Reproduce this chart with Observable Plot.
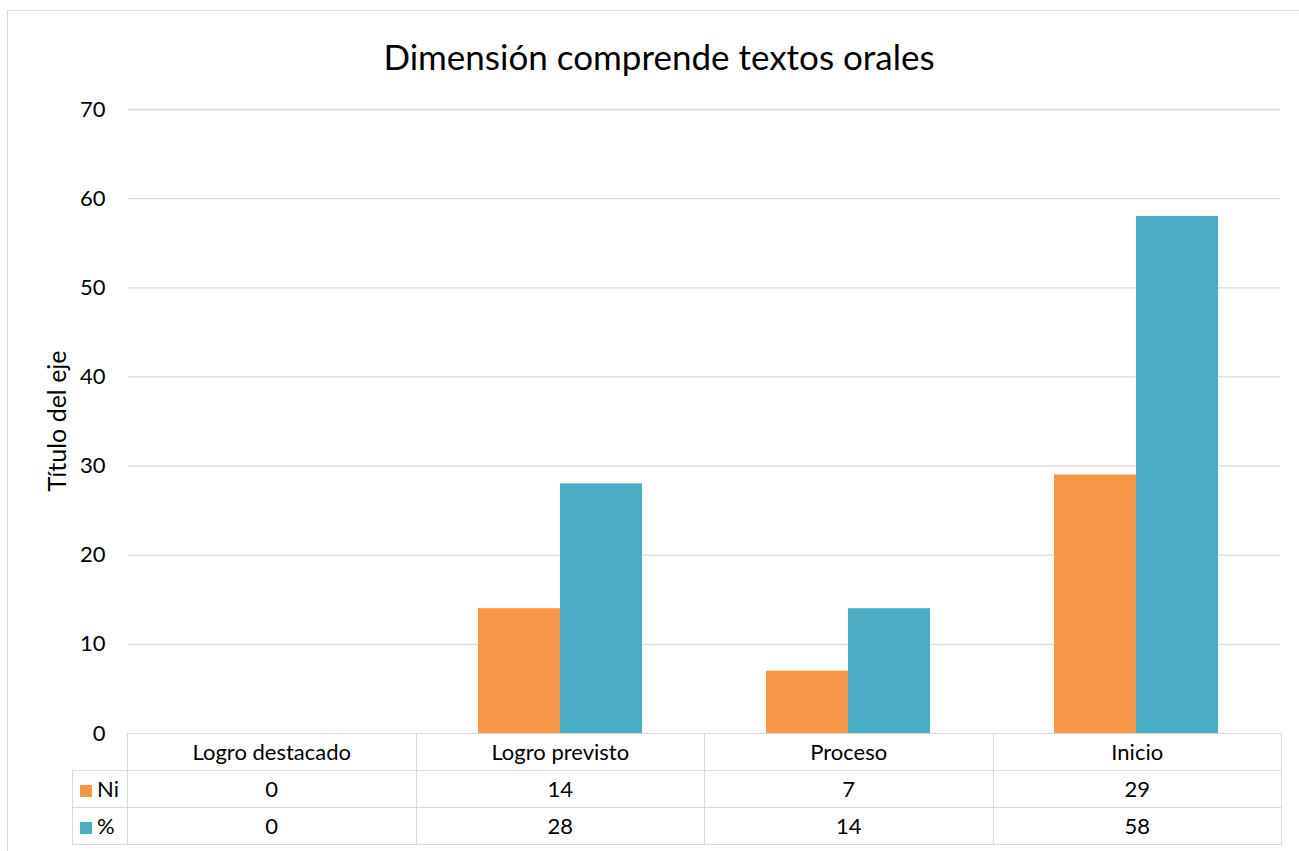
<!DOCTYPE html>
<html>
<head>
<meta charset="utf-8">
<script src="https://cdn.jsdelivr.net/npm/d3@7"></script>
<script src="https://cdn.jsdelivr.net/npm/@observablehq/plot@0.6"></script>
<style>
  html, body { margin: 0; padding: 0; background: #fff; }
  body { width: 1299px; height: 851px; position: relative; overflow: hidden; font-family: Lato, "Open Sans", sans-serif; color: #000; }
  #frame { position: absolute; left: 7px; top: 10px; width: 1400px; height: 900px; border-left: 1px solid #d9d9d9; border-top: 1px solid #d9d9d9; }
  #title { position: absolute; left: 0; width: 1318px; top: 34px; text-align: center; font-size: 35px; line-height: 44px; }
  #chart { position: absolute; left: 0; top: 0; }
  #ylabel { position: absolute; left: 56px; top: 421px; transform: translate(-50%, -50%) rotate(-90deg); font-size: 25px; line-height: 30px; white-space: nowrap; }
  #table { position: absolute; left: 72px; top: 733px; border-collapse: collapse; font-size: 22px; }
  #table td { border: 1px solid #d9d9d9; text-align: center; padding: 0; height: 36px; line-height: 24px; }
  #table td.corner { border: none; }
  #table td.leg { text-align: left; padding-left: 7px; width: 47px; }
  #table td.cat { width: 287.5px; }
  .sw { display: inline-block; width: 12px; height: 12px; margin-right: 5px; vertical-align: 0px; }
</style>
</head>
<body>
<div id="frame"></div>
<div id="title"></div>
<div id="chart"></div>
<div id="ylabel"></div>
<table id="table"></table>
<script>
const titleText = "Dimensión comprende textos orales";
const yAxisTitle = "Título del eje";
const categories = ["Logro destacado", "Logro previsto", "Proceso", "Inicio"];
const series = ["Ni", "%"];
const niValues = [0, 14, 7, 29];
const pctValues = [0, 28, 14, 58];
const yTicks = [0, 10, 20, 30, 40, 50, 60, 70];
const seriesColors = ["#F79646", "#4BACC6"];

const seriesValues = [niValues, pctValues];
const data = [];
series.forEach((s, si) => categories.forEach((c, ci) => data.push({category: c, series: s, value: seriesValues[si][ci]})));

document.getElementById("title").textContent = titleText;
document.getElementById("ylabel").textContent = yAxisTitle;

const chart = Plot.plot({
  width: 1299,
  height: 740,
  marginLeft: 127,
  marginRight: 18,
  marginTop: 109,
  marginBottom: 7,
  style: {fontFamily: "Lato, 'Open Sans', sans-serif", fontSize: "22px", color: "#000", background: "transparent", overflow: "visible"},
  fx: {domain: categories, padding: 0, axis: null, label: null},
  x: {domain: series, paddingInner: 0, paddingOuter: 0.745, axis: null},
  y: {domain: [0, 70], ticks: yTicks, tickSize: 0, tickPadding: 23, label: null},
  color: {domain: series, range: seriesColors},
  marks: [
    Plot.ruleY(yTicks.filter(d => d > 0), {stroke: "#d9d9d9", strokeWidth: 1.3}),
    Plot.barY(data, {fx: "category", x: "series", y: "value", fill: "series"})
  ]
});
document.getElementById("chart").appendChild(chart);

const table = document.getElementById("table");
const header = document.createElement("tr");
header.innerHTML = `<td class="corner leg"></td>` + categories.map(c => `<td class="cat">${c}</td>`).join("");
table.appendChild(header);
series.forEach((s, si) => {
  const tr = document.createElement("tr");
  tr.innerHTML = `<td class="leg"><span class="sw" style="background:${seriesColors[si]}"></span>${s}</td>` +
    seriesValues[si].map(v => `<td class="cat">${v}</td>`).join("");
  table.appendChild(tr);
});
</script>
</body>
</html>
